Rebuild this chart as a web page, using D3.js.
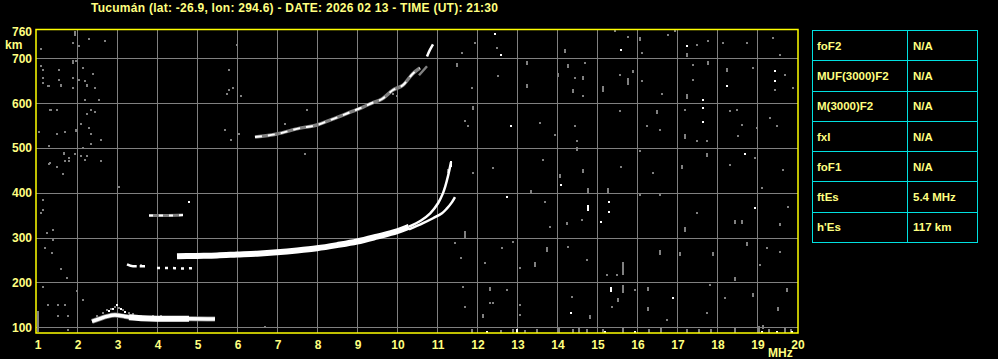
<!DOCTYPE html>
<html>
<head>
<meta charset="utf-8">
<script src="https://cdn.jsdelivr.net/npm/d3@7"></script>
<style>
  html, body { margin: 0; padding: 0; background: #000; }
  svg { display: block; }
  text { font-family: "Liberation Sans", Arial, sans-serif; font-weight: bold; }
</style>
</head>
<body>
<div id="chart"></div>
<script>
// ---- data (frequency in MHz, virtual height in km) ----
const title = 'Tucumán (lat: -26.9, lon: 294.6) - DATE: 2026 02 13 - TIME (UT): 21:30';
const freqTicks = d3.range(1, 21);
const heightTicks = [100, 200, 300, 400, 500, 600, 700];

const paramNames = ['foF2', 'MUF(3000)F2', 'M(3000)F2', 'fxI', 'foF1', 'ftEs', "h'Es"];
const paramValues = ['N/A', 'N/A', 'N/A', 'N/A', 'N/A', '5.4 MHz', '117 km'];

// F2 ordinary trace (thick band, then the cusp)
const foTrace = [[4.5,258],[5.0,259],[5.5,260],[6.0,262],[6.5,264],[7.0,267],[7.5,271],[8.0,276],[8.5,283],
  [9.0,291],[9.5,302],[10.0,314],[10.3,324],[10.6,338],[10.83,354],[11.03,377],[11.15,399],[11.2,412],[11.28,439],[11.35,468]];
// F2 extraordinary branch
const fxTrace = [[10.3,318],[10.65,332],[10.9,343],[11.125,354],[11.25,365],[11.375,379],[11.45,390]];
// second hop trace
const hop2Trace = [[6.45,524],[7.0,531],[7.575,544],[8.0,551],[8.275,560],[8.65,573],[8.9,582],[9.15,591],
  [9.375,600],[9.625,609],[9.9,629],[10.15,640],[10.4,666],[10.575,678]];
const hop2Side = [[10.55,662],[10.65,672],[10.75,682]];
const hop2Top = [[10.75,704],[10.82,718],[10.9,731]];
// sporadic E trace
const esTrace = [[2.375,113],[2.575,119],[2.75,124],[2.95,127],[3.2,124],[3.5,121],[4.0,119],[4.5,119],[4.85,119],[5.45,118]];
const esCore = [[3.3,122],[3.6,120],[4.0,119],[4.5,119],[4.8,119]];
// weak fragments
const fragA = [[3.25,240],[3.4,236],[3.7,236]];
const fragB = [[4.0,232],[4.3,232],[4.6,231],[5.0,232]];
const fragC = [[3.8,349],[4.2,349],[4.65,350]];

// white speckles
const whiteDots = [[12.45,753],[12.6,707],[15.6,718],[17.25,727],[17.65,606],[18.25,638],[19.45,671],[19.45,649],
  [11.275,437],[12.85,548],[17.65,589],[17.65,557],[18.7,486],[14.1,417],[12.75,390],[14.775,365],[15.3,379],
  [15.3,357],[15.1,334],[18.95,365],[16.9,165],[14.35,131],[4.8,380],[2.9,140],[3.0,150],[3.1,141],[3.2,133],[2.8,135],
  [12.25,89],[15.2,89],[15.95,89],[19.125,89],[19.5,89],[19.875,89]];
const whiteDashes = [[11.35,470,457],[14.775,372,360],[15.35,190,178],[13.0,95,88]];

// grey speckles
const greyDots = [
  [11.625,711],[11.95,734],[12.5,722],[15.45,760],[15.775,747],[16.125,711],[16.775,752],[16.95,760],[17.5,729],
  [17.775,738],[18.15,734],[18.75,734],[19.4,745],[19.575,707],[11.875,633],[12.525,660],[14.45,655],[14.7,689],
  [14.65,615],[15.575,662],[16.125,649],[16.625,620],[17.4,684],[17.4,651],[18.9,678],[19.7,662],[19.9,633],[19.45,629],
  [11.7,560],[11.775,548],[13.575,555],[13.95,528],[14.45,548],[14.5,515],[15.575,582],[16.25,548],[16.575,539],
  [17.2,584],[17.5,515],[17.75,515],[18.325,582],[18.5,584],[18.625,551],[18.525,526],[19.325,566],[19.5,548],[19.0,544],
  [11.9,444],[12.4,455],[13.65,473],[15.6,457],[16.075,493],[16.4,444],[18.325,461],[18.95,477],[19.65,450],
  [2.3,742],[2.7,738],[1.1,720],[1.9,734],[2.05,727],[1.975,693],[1.1,682],[1.55,673],[2.15,678],[2.4,664],[1.15,655],
  [1.55,651],[1.9,655],[2.05,651],[2.2,649],[2.45,633],[1.3,638],[1.9,633],[2.2,606],[2.55,606],[1.35,584],[1.5,584],
  [2.35,584],[2.25,575],[2.45,580],[2.1,553],[2.3,544],[2.35,531],[1.5,531],[1.7,535],[2.6,517],[2.35,508],[1.05,535],
  [1.3,504],[2.15,499],[1.95,486],[1.8,477],[2.1,481],[2.25,481],[2.2,473],[1.7,470],[1.8,470],[2.6,470],[1.3,464],
  [1.65,441],[3.05,412],[5.8,673],[5.8,629],[5.9,633],[5.75,620],[6.1,615],[6.0,729],[5.7,539],[5.85,517],[6.05,531],
  [7.75,584],[7.2,553],[7.7,486],[1.15,673],[1.15,645],[1.275,638],[1.325,584],[1.325,466],[1.5,457],[1.15,383],
  [1.15,361],[1.1,354],[1.4,316],[1.4,294],[1.25,310],[1.375,265],[1.2,276],[1.15,190],[1.275,149],[1.525,149],
  [1.525,125],[1.775,125],[1.775,93],[6.7,100],[12.15,127],[12.325,154],[1.6,230],[1.75,210],[2.0,180],[2.15,160],[1.7,150],
  [2.65,131],[2.75,138],[2.85,141],[2.95,146],[3.05,142],[3.15,138],[3.3,131],[3.4,129],[3.6,125],[3.9,124],[4.1,124],[2.5,125],
  [14.625,339],[13.7,379],[13.825,323],[16.075,394],[16.575,394],[17.5,354],[19.775,368],[19.125,410],
  [11.45,288],[11.6,254],[12.2,243],[12.625,276],[12.9,290],[13.075,232],[14.275,278],[14.75,250],[15.25,216],[15.5,216],
  [19.25,276],[19.575,267],[19.075,238],[11.65,189],[12.4,154],[12.75,183],[11.7,145],[13.075,149],[14.375,167],
  [15.375,145],[15.95,183],[17.825,194],[18.2,165],[12.15,122],[13.075,127],[16.75,116],[17.75,131],
  [3.6,238],[4.45,231],[4.15,348],[9.9,620],[10.0,615]
];
const greyDashes = [
  [11.5,689,680],[13.25,693,684],[13.25,642,633],[14.2,720,711],[14.275,687,678],[14.025,666,657],[14.65,660,651],
  [14.4,631,622],[15.15,638,625],[15.775,655,640],[15.9,673,666],[17.25,620,610],[17.775,693,684],[18.25,678,669],
  [17.25,711,702],[16.075,747,738],[11.9,593,584],[16.5,584,575],[17.2,530,520],[14.5,502,493],[14.075,442,432],
  [14.65,452,443],[17.125,461,452],[17.75,488,479],[13.35,406,400],[14.775,410,400],[15.275,410,400],[14.25,334,327],
  [17.2,323,312],[18.45,339,330],[18.625,339,330],[19.575,332,325],[13.45,245,235],[13.75,278,268],[15.65,245,216],
  [16.575,272,262],[17.075,267,258],[17.9,267,258],[18.75,290,280],[18.45,212,203],[12.325,189,180],[15.65,194,176],
  [15.525,165,156],[16.275,189,180],[16.275,145,136],[18.9,176,167],[19.75,187,178],[19.525,145,136],[14.825,127,118],
  [19.15,104,95],[1.95,760,750],[1.9,695,688],[1.6,643,636],[2.25,643,636],[1.975,541,536],[1.675,491,484],
  [1.025,135,89],[11.7,315,300],[11.275,452,444],
  [11.875,96,88],[12.9,96,88],[13.5,96,88],[14.05,98,88],[14.4,96,88],[14.55,98,88],[14.75,96,88],[15.15,96,88],
  [15.65,98,88],[16.3,96,88],[16.6,98,88],[17.25,96,88],[17.55,96,88],[17.85,96,88],[18.45,100,88],[19.05,102,88],
  [19.3,96,88],[19.7,100,88],[19.85,96,88],[12.6,94,88],[13.2,94,88]
];

// ---- layout ----
const width = 998, height = 359;
const plot = { left: 36, right: 798, top: 29.5, bottom: 333 };
const grey = '#808080', label = '#ffff80';

const svg = d3.select('#chart').append('svg')
  .attr('width', width).attr('height', height)
  .style('background', '#000');

const x = d3.scaleLinear().domain([0.975, 20.025]).range([plot.left, plot.right]);
const y = d3.scaleLinear().domain([87, 764]).range([plot.bottom, plot.top]);

// title
svg.append('text')
  .attr('x', 91).attr('y', 12)
  .attr('textLength', 407).attr('lengthAdjust', 'spacing')
  .attr('fill', label).style('font-size', '12px')
  .text(title);

// grid
svg.append('g').selectAll('line')
  .data(freqTicks.filter(d => d > 1 && d < 20))
  .join('line')
  .attr('x1', d => Math.round(x(d)) + 0.5).attr('x2', d => Math.round(x(d)) + 0.5)
  .attr('y1', plot.top).attr('y2', plot.bottom)
  .attr('stroke', grey).attr('stroke-width', 1);

svg.append('g').selectAll('line')
  .data(heightTicks)
  .join('line')
  .attr('x1', plot.left).attr('x2', plot.right)
  .attr('y1', d => Math.round(y(d)) + 0.5).attr('y2', d => Math.round(y(d)) + 0.5)
  .attr('stroke', grey).attr('stroke-width', 1);

// speckles, snapped to whole pixels
const px = v => Math.round(v);
const speck = svg.append('g').attr('shape-rendering', 'crispEdges');
speck.selectAll('rect.gd').data(greyDots).join('rect')
  .attr('class', 'gd')
  .attr('x', d => px(x(d[0])) - 1).attr('y', d => px(y(d[1])) - 1)
  .attr('width', 2).attr('height', 2).attr('fill', grey);
speck.selectAll('rect.gs').data(greyDashes).join('rect')
  .attr('class', 'gs')
  .attr('x', d => px(x(d[0])) - 1).attr('y', d => px(y(d[1])))
  .attr('width', 2).attr('height', d => px(y(d[2])) - px(y(d[1]))).attr('fill', grey);
speck.selectAll('rect.wd').data(whiteDots).join('rect')
  .attr('class', 'wd')
  .attr('x', d => px(x(d[0])) - 1).attr('y', d => px(y(d[1])) - 1)
  .attr('width', 2).attr('height', 2).attr('fill', '#fff');
speck.selectAll('rect.ws').data(whiteDashes).join('rect')
  .attr('class', 'ws')
  .attr('x', d => px(x(d[0])) - 1).attr('y', d => px(y(d[1])))
  .attr('width', 2).attr('height', d => px(y(d[2])) - px(y(d[1]))).attr('fill', '#fff');

// traces
const line = d3.line().x(d => x(d[0])).y(d => y(d[1])).curve(d3.curveMonotoneX);
const lineY = d3.line().x(d => x(d[0])).y(d => y(d[1])).curve(d3.curveCatmullRom);

const drawTrace = (pts, color, w, dash, gen) => {
  svg.append('path')
    .datum(pts)
    .attr('fill', 'none')
    .attr('stroke', color)
    .attr('stroke-width', w)
    .attr('stroke-dasharray', dash || null)
    .attr('d', (gen || line)(pts));
};

drawTrace(hop2Trace, grey, 3.5);
drawTrace(hop2Trace, '#fff', 2, '7,6');
drawTrace(hop2Side, grey, 2.5);
drawTrace(hop2Top, '#fff', 2.5, null, lineY);

drawTrace(esTrace, grey, 5);
drawTrace(esTrace, '#fff', 3.5);
drawTrace(esCore, '#fff', 6);

drawTrace(fragA, '#fff', 2.5, '10,3');
drawTrace(fragB, '#fff', 2.5, '3,5');
drawTrace(fragC, grey, 3);
drawTrace(fragC, '#fff', 2, '4,6');

drawTrace(foTrace.filter(d => d[0] <= 10.5), '#fff', 6);
drawTrace(foTrace.filter(d => d[0] >= 10.3), '#fff', 2.5, null, lineY);
drawTrace(fxTrace, '#fff', 2.5, null, lineY);

// border
svg.append('rect')
  .attr('x', plot.left).attr('y', plot.top)
  .attr('width', plot.right - plot.left).attr('height', plot.bottom - plot.top)
  .attr('fill', 'none').attr('stroke', '#ffff00').attr('stroke-width', 1.5);

// axis labels
svg.append('g').selectAll('text')
  .data(heightTicks.concat([760]))
  .join('text')
  .attr('x', 32).attr('y', d => y(d) + 4.5)
  .attr('text-anchor', 'end')
  .attr('fill', label).style('font-size', '12px')
  .text(d => d);
svg.append('text')
  .attr('x', 5).attr('y', 49)
  .attr('fill', label).style('font-size', '12px')
  .text('km');

svg.append('g').selectAll('text')
  .data(freqTicks)
  .join('text')
  .attr('x', d => x(d) + 1).attr('y', 349)
  .attr('text-anchor', 'middle')
  .attr('fill', label).style('font-size', '12px')
  .text(d => d);
svg.append('text')
  .attr('x', 768).attr('y', 357)
  .attr('fill', label).style('font-size', '12px')
  .text('MHz');

// parameter table
const table = { left: 812, mid: 907, right: 977, top: 30, bottom: 242 };
const rowH = (table.bottom - table.top) / paramNames.length;
const tg = svg.append('g');
tg.append('rect')
  .attr('x', table.left + 0.5).attr('y', table.top + 0.5)
  .attr('width', table.right - table.left).attr('height', table.bottom - table.top)
  .attr('fill', 'none').attr('stroke', '#00e0e0');
tg.append('line')
  .attr('x1', table.mid + 0.5).attr('x2', table.mid + 0.5)
  .attr('y1', table.top).attr('y2', table.bottom)
  .attr('stroke', '#00e0e0');
tg.selectAll('line.row')
  .data(d3.range(1, paramNames.length))
  .join('line')
  .attr('class', 'row')
  .attr('x1', table.left).attr('x2', table.right)
  .attr('y1', i => Math.round(table.top + i * rowH) + 0.5)
  .attr('y2', i => Math.round(table.top + i * rowH) + 0.5)
  .attr('stroke', '#00e0e0');
tg.selectAll('text.name')
  .data(paramNames)
  .join('text')
  .attr('class', 'name')
  .attr('x', table.left + 5).attr('y', (d, i) => table.top + (i + 0.5) * rowH + 4.5)
  .attr('fill', label).style('font-size', '11.5px')
  .text(d => d);
tg.selectAll('text.val')
  .data(paramValues)
  .join('text')
  .attr('class', 'val')
  .attr('x', table.mid + 6).attr('y', (d, i) => table.top + (i + 0.5) * rowH + 4.5)
  .attr('fill', label).style('font-size', '11.5px')
  .text(d => d);
</script>
</body>
</html>
